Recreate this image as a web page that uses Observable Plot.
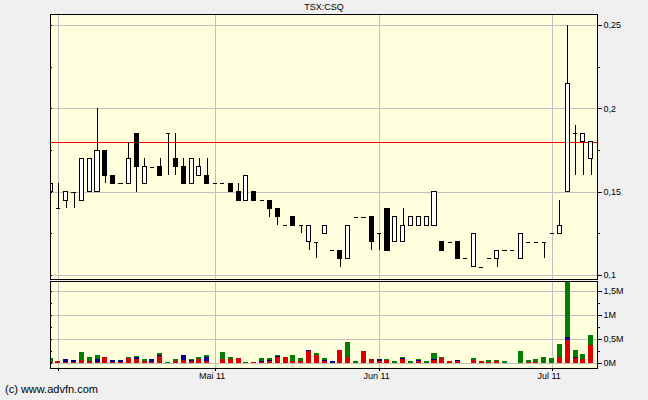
<!DOCTYPE html>
<html>
<head>
<meta charset="utf-8">
<script src="https://cdn.jsdelivr.net/npm/d3@7"></script>
<script src="https://cdn.jsdelivr.net/npm/@observablehq/plot@0.6"></script>
<style>
  html, body { margin: 0; padding: 0; background: #f0f0f0; }
  #wrap { position: relative; width: 648px; height: 400px; overflow: hidden; background: #f0f0f0;
          font-family: "Liberation Sans", Arial, sans-serif; color: #000; }
  #title { position: absolute; left: 0; top: 2px; width: 648px; text-align: center; font-size: 9px; line-height: 11px; }
  #price { position: absolute; left: 0; top: 14px; }
  #volume { position: absolute; left: 0; top: 281px; }
  #caption { position: absolute; left: 5px; top: 383px; font-size: 11px; line-height: 13px; }
</style>
</head>
<body>
<div id="wrap">
  <div id="title"></div>
  <div id="price"></div>
  <div id="volume"></div>
  <div id="caption"></div>
</div>
<script>
const title = "TSX:CSQ";
const caption = "(c) www.advfn.com";

// trading days
const dates = [
  "2011-03-31",
  "2011-04-01","2011-04-04","2011-04-05","2011-04-06","2011-04-07","2011-04-08",
  "2011-04-11","2011-04-12","2011-04-13","2011-04-14","2011-04-15",
  "2011-04-18","2011-04-19","2011-04-20","2011-04-21",
  "2011-04-25","2011-04-26","2011-04-27","2011-04-28","2011-04-29",
  "2011-05-02","2011-05-03","2011-05-04","2011-05-05","2011-05-06",
  "2011-05-09","2011-05-10","2011-05-11","2011-05-12","2011-05-13",
  "2011-05-16","2011-05-17","2011-05-18","2011-05-19","2011-05-20",
  "2011-05-24","2011-05-25","2011-05-26","2011-05-27",
  "2011-05-30","2011-05-31",
  "2011-06-01","2011-06-02","2011-06-03",
  "2011-06-06","2011-06-07","2011-06-08","2011-06-09","2011-06-10",
  "2011-06-13","2011-06-14","2011-06-15","2011-06-16","2011-06-17",
  "2011-06-20","2011-06-21","2011-06-22","2011-06-23","2011-06-24",
  "2011-06-27","2011-06-28","2011-06-29","2011-06-30",
  "2011-07-04","2011-07-05","2011-07-06","2011-07-07","2011-07-08","2011-07-11"
];

const open = [
  .15,.14,.145,.15,.145,.15,.15,.175,.16,.155,
  .155,.185,.155,.165,.165,.185,.17,.165,.155,.16,
  .16,.155,.155,.155,.15,.145,.15,.145,.145,.14,
  .13,.135,.13,.12,.12,.125,.115,.115,.11,.135,
  .135,.135,.125,.14,.12,.12,.13,.13,.13,.13,
  .12,.12,.12,.11,.105,.105,.11,.11,.115,.115,
  .11,.12,.12,.12,.125,.125,.15,.185,.18,.17
];
const high = [
  .155,.155,.15,.15,.17,.17,.2,.175,.16,.155,
  .18,.185,.17,.165,.17,.185,.185,.17,.17,.17,
  .17,.155,.155,.155,.155,.16,.15,.145,.145,.14,
  .13,.135,.13,.13,.12,.13,.115,.115,.13,.135,
  .135,.135,.125,.14,.135,.14,.135,.135,.135,.15,
  .12,.12,.12,.11,.125,.105,.11,.115,.115,.115,
  .125,.12,.12,.12,.125,.145,.25,.19,.185,.18
];
const low = [
  .15,.14,.14,.14,.145,.15,.15,.155,.155,.155,
  .155,.15,.155,.165,.16,.16,.16,.155,.155,.16,
  .155,.155,.155,.15,.145,.145,.145,.145,.135,.13,
  .13,.13,.125,.115,.11,.125,.115,.105,.11,.135,
  .135,.115,.115,.115,.12,.12,.13,.13,.13,.13,
  .115,.12,.11,.11,.105,.105,.11,.105,.115,.115,
  .11,.12,.12,.11,.125,.125,.15,.16,.16,.16
];
const close = [
  .155,.14,.15,.15,.17,.17,.175,.16,.155,.155,
  .17,.165,.165,.165,.16,.185,.165,.155,.17,.165,
  .155,.155,.155,.15,.145,.16,.145,.145,.14,.135,
  .13,.13,.13,.13,.12,.13,.115,.11,.13,.135,
  .135,.12,.125,.115,.135,.13,.135,.135,.135,.15,
  .115,.12,.11,.11,.125,.105,.11,.115,.115,.115,
  .125,.12,.12,.12,.125,.13,.215,.185,.185,.18
];

// volume split (stacked bottom to top: down, neutral, up)
const volDown = [
  10000,30000,20000,15000,50000,35000,20000,110000,22000,10000,
  90000,70000,42000,5000,132000,0,42000,49000,30000,83000,
  28000,0,83000,83000,90000,0,25000,21000,34000,111000,
  110000,28000,28000,236000,166000,28000,0,257000,125000,0,
  236000,70000,28000,49000,0,69000,0,28000,0,48000,
  90000,28000,28000,0,48000,28000,21000,28000,0,0,
  0,14000,20000,0,0,125000,465000,90000,70000,361000
];
const volNeutral = [
  0,0,50000,35000,0,0,50000,0,28000,40000,
  0,42000,0,65000,35000,0,0,104000,20000,0,
  83000,0,0,0,0,0,0,21000,21000,21000,
  0,0,0,21000,0,21000,28000,0,0,0,
  0,0,42000,0,0,21000,0,21000,0,21000,
  0,0,21000,0,0,0,0,0,0,0,
  0,0,0,0,0,0,62000,21000,0,0
];
const volUp = [
  90000,0,0,0,165000,75000,83000,0,0,0,
  20000,20000,28000,0,28000,25000,28000,0,20000,28000,
  42000,0,139000,28000,0,25000,0,48000,35000,21000,
  0,125000,62000,0,28000,42000,0,0,298000,28000,
  0,0,0,21000,28000,21000,28000,21000,28000,125000,
  21000,0,0,0,42000,0,28000,21000,28000,0,
  236000,35000,50000,110000,90000,257000,1146000,146000,104000,208000
];

const refPrice = 0.18;
const priceTicks = [0.1, 0.15, 0.2, 0.25];
const priceTickLabels = ["0,1", "0,15", "0,2", "0,25"];
const priceMinor = [0.125, 0.175, 0.225];
const priceLeft = [0.1, 0.125, 0.15, 0.175, 0.2, 0.225, 0.25];
const volTicks = [0, 500000, 1000000, 1500000];
const volTickLabels = ["0M", "0,5M", "1M", "1,5M"];
const volMinor = [250000, 750000, 1250000];
const volLeft = [0, 250000, 500000, 750000, 1000000, 1250000, 1500000];
const gridDates = ["2011-04-01", "2011-05-02", "2011-06-01", "2011-07-04"];
const monthLabels = ["", "Mai 11", "Jun 11", "Jul 11"];
const volKinds = ["down", "neutral", "up"];
const volColors = ["#dd0000", "#000099", "#008000"];

document.getElementById("title").textContent = title;
document.getElementById("caption").textContent = caption;

const rows = dates.map((date, i) => ({i, date, open: open[i], high: high[i], low: low[i], close: close[i]}));
const bodies = rows.filter(d => d.open !== d.close);
const dashes = rows.filter(d => d.open === d.close);
const gridIdx = gridDates.map(d => dates.indexOf(d));
const volRows = [];
dates.forEach((date, i) => {
  let base = 0;
  [[volKinds[0], volDown], [volKinds[1], volNeutral], [volKinds[2], volUp]].forEach(([kind, arr]) => {
    if (arr[i] > 0) { volRows.push({i, kind, y1: base, y2: base + arr[i]}); base += arr[i]; }
  });
});

const xDomain = [0, 69.8];
const font = {background: "transparent", overflow: "visible", fontFamily: "'Liberation Sans', Arial, sans-serif", fontSize: "9px", color: "#000"};
const panel = "#ffffdd";
const gridColor = "#c0c0c0";
const crisp = {shapeRendering: "crispEdges"};
const hw = 0.26;

const priceChart = Plot.plot({
  width: 648, height: 265,
  marginLeft: 50, marginRight: 51, marginTop: 0, marginBottom: 0,
  style: font,
  x: {type: "linear", domain: xDomain, axis: null},
  y: {domain: [0.0976, 0.2566], axis: null},
  color: {type: "identity"},
  marks: [
    Plot.frame({fill: panel, stroke: null}),
    Plot.ruleY(priceTicks, {stroke: gridColor, ...crisp}),
    Plot.ruleX(gridIdx, {stroke: gridColor, ...crisp}),
    Plot.ruleY([refPrice], {stroke: "#ff0000", ...crisp}),
    Plot.ruleX(rows, {x: "i", y1: "low", y2: "high", stroke: "#000", clip: true, ...crisp}),
    Plot.ruleY(dashes, {y: "close", x1: d => d.i - hw, x2: d => d.i + hw, stroke: "#000", clip: true, ...crisp}),
    Plot.rect(bodies, {x1: d => d.i - hw, x2: d => d.i + hw, y1: "open", y2: "close",
      fill: d => d.close > d.open ? "#ffffff" : "#000000", stroke: "#000", clip: true, ...crisp}),
    Plot.frame({stroke: "#000", ...crisp}),
    Plot.axisY({anchor: "right", ticks: priceTicks, tickSize: 4, tickPadding: 2, label: null,
      tickFormat: d => priceTickLabels[priceTicks.indexOf(d)], ...crisp}),
    Plot.axisY({anchor: "right", ticks: priceMinor, tickSize: 2, label: null, tickFormat: () => "", ...crisp}),
    Plot.axisY({anchor: "left", ticks: priceLeft, tickSize: 2, dx: 2, label: null, tickFormat: () => "", ...crisp})
  ]
});
document.getElementById("price").appendChild(priceChart);

const volChart = Plot.plot({
  width: 648, height: 119,
  marginLeft: 50, marginRight: 51, marginTop: 0, marginBottom: 32,
  style: font,
  x: {type: "linear", domain: xDomain, axis: null},
  y: {domain: [-110000, 1702000], axis: null},
  color: {domain: volKinds, range: volColors},
  marks: [
    Plot.frame({fill: panel, stroke: null}),
    Plot.ruleY(volTicks, {stroke: gridColor, ...crisp}),
    Plot.ruleX(gridIdx, {stroke: gridColor, ...crisp}),
    Plot.rect(volRows, {x1: d => d.i - 0.32, x2: d => d.i + 0.32, y1: "y1", y2: "y2", fill: "kind", clip: true, ...crisp}),
    Plot.frame({stroke: "#000", ...crisp}),
    Plot.axisY({anchor: "right", ticks: volTicks, tickSize: 4, tickPadding: 2, label: null,
      tickFormat: d => volTickLabels[volTicks.indexOf(d)], ...crisp}),
    Plot.axisY({anchor: "right", ticks: volMinor, tickSize: 2, label: null, tickFormat: () => "", ...crisp}),
    Plot.axisY({anchor: "left", ticks: volLeft, tickSize: 2, dx: 2, label: null, tickFormat: () => "", ...crisp}),
    Plot.axisX({anchor: "bottom", ticks: gridIdx, tickSize: 3, label: null, tickFormat: () => "", ...crisp}),
    Plot.axisX({anchor: "bottom", ticks: gridIdx, tickSize: 0, tickPadding: 4, dx: -3, label: null,
      tickFormat: d => monthLabels[gridIdx.indexOf(d)]})
  ]
});
document.getElementById("volume").appendChild(volChart);
</script>
</body>
</html>
